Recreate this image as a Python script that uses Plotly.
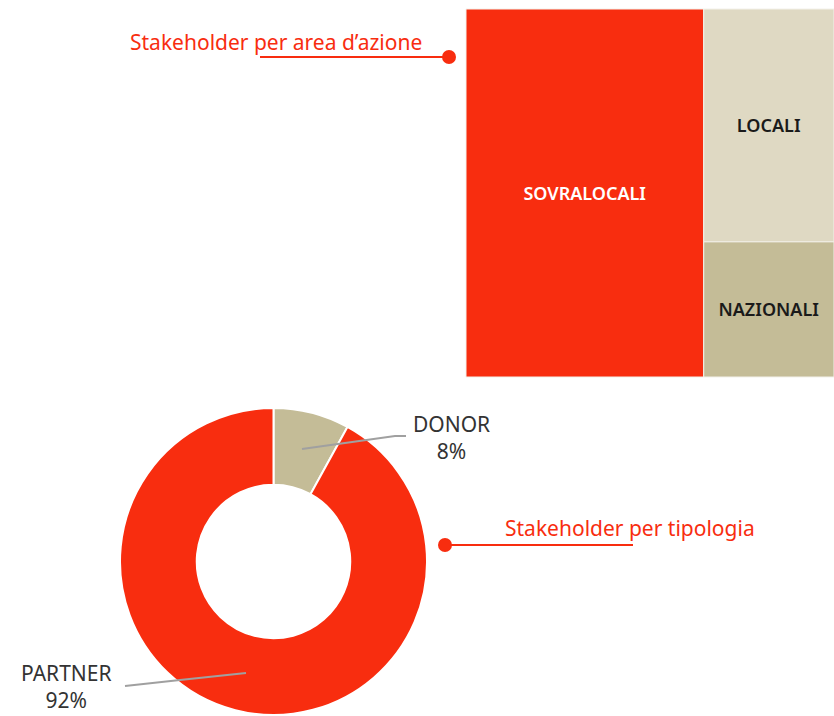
import plotly.graph_objects as go

W, H = 834, 716

# Treemap data
area_labels = ["SOVRALOCALI", "LOCALI", "NAZIONALI"]
area_values = [64.6, 22.4, 13.0]
area_colors = ["#F82D0F", "#DFD9C3", "#C4BC97"]
area_text_colors = ["#FFFFFF", "#1A1A1A", "#1A1A1A"]

# Donut data
type_labels = ["DONOR", "PARTNER"]
type_values = [8, 92]
type_colors = ["#C4BC97", "#F82D0F"]

RED = "#F82D0F"
FONT = "Noto Sans"

def px(x):
    return x / W

def py(y):
    return 1 - y / H

fig = go.Figure()

fig.add_trace(go.Treemap(
    labels=area_labels,
    parents=[""] * len(area_labels),
    values=area_values,
    marker=dict(colors=area_colors, line=dict(color="#F3F1EA", width=1), pad=dict(t=0, l=0, r=0, b=0)),
    textfont=dict(family=FONT, size=18, color=area_text_colors, weight=600),
    textinfo="label",
    textposition="middle center",
    tiling=dict(packing="squarify", pad=0),
    pathbar=dict(visible=False),
    sort=True,
    hoverinfo="label+value",
    domain=dict(x=[px(466), 1.0], y=[py(377), py(9)]),
))

fig.add_trace(go.Pie(
    labels=type_labels,
    values=type_values,
    hole=0.5,
    sort=False,
    direction="clockwise",
    rotation=0,
    marker=dict(colors=type_colors, line=dict(color="#FFFFFF", width=2)),
    textinfo="none",
    showlegend=False,
    domain=dict(x=[px(120), px(427)], y=[py(715), py(408)]),
))

total = sum(type_values)
pcts = [f"{round(v / total * 100)}%" for v in type_values]

# pie labels
label_pos = [(452, 437), (66, 686)]
for lab, pct, (tx, ty) in zip(type_labels, pcts, label_pos):
    fig.add_annotation(
        x=px(tx), y=py(ty), xref="paper", yref="paper",
        text=f"{lab}<br>{pct}", showarrow=False,
        font=dict(family=FONT, size=21, color="#333333"),
        xanchor="center", yanchor="middle", align="center",
    )

# leader lines
fig.add_shape(type="path", xref="paper", yref="paper",
              path=f"M {px(302)} {py(449)} L {px(395)} {py(436)} L {px(406)} {py(436)}",
              line=dict(color="#A0A0A0", width=2))
fig.add_shape(type="path", xref="paper", yref="paper",
              path=f"M {px(246)} {py(673)} L {px(180)} {py(680)} L {px(125)} {py(686)}",
              line=dict(color="#A0A0A0", width=2))

# red callouts
fig.add_annotation(x=px(424), y=py(42), xref="paper", yref="paper",
                   text="Stakeholder per area d’azione", showarrow=False,
                   font=dict(family=FONT, size=21, color=RED),
                   xanchor="right", yanchor="middle")
fig.add_shape(type="line", xref="paper", yref="paper",
              x0=px(260), x1=px(449), y0=py(57), y1=py(57),
              line=dict(color=RED, width=2))
fig.add_shape(type="circle", xref="paper", yref="paper",
              x0=px(442), x1=px(456), y0=py(50), y1=py(64),
              fillcolor=RED, line=dict(color=RED, width=0))

fig.add_annotation(x=px(503), y=py(528), xref="paper", yref="paper",
                   text="Stakeholder per tipologia", showarrow=False,
                   font=dict(family=FONT, size=21, color=RED),
                   xanchor="left", yanchor="middle")
fig.add_shape(type="line", xref="paper", yref="paper",
              x0=px(445), x1=px(633), y0=py(545), y1=py(545),
              line=dict(color=RED, width=2))
fig.add_shape(type="circle", xref="paper", yref="paper",
              x0=px(438), x1=px(452), y0=py(538), y1=py(552),
              fillcolor=RED, line=dict(color=RED, width=0))

fig.update_layout(
    width=W, height=H,
    margin=dict(l=0, r=0, t=0, b=0),
    paper_bgcolor="#FFFFFF",
    plot_bgcolor="#FFFFFF",
    showlegend=False,
    font=dict(family=FONT),
)

fig.write_html(
    "out.html",
    config={"displayModeBar": False},
    post_script="document.body.style.margin='0';document.body.style.overflow='hidden';",
)
